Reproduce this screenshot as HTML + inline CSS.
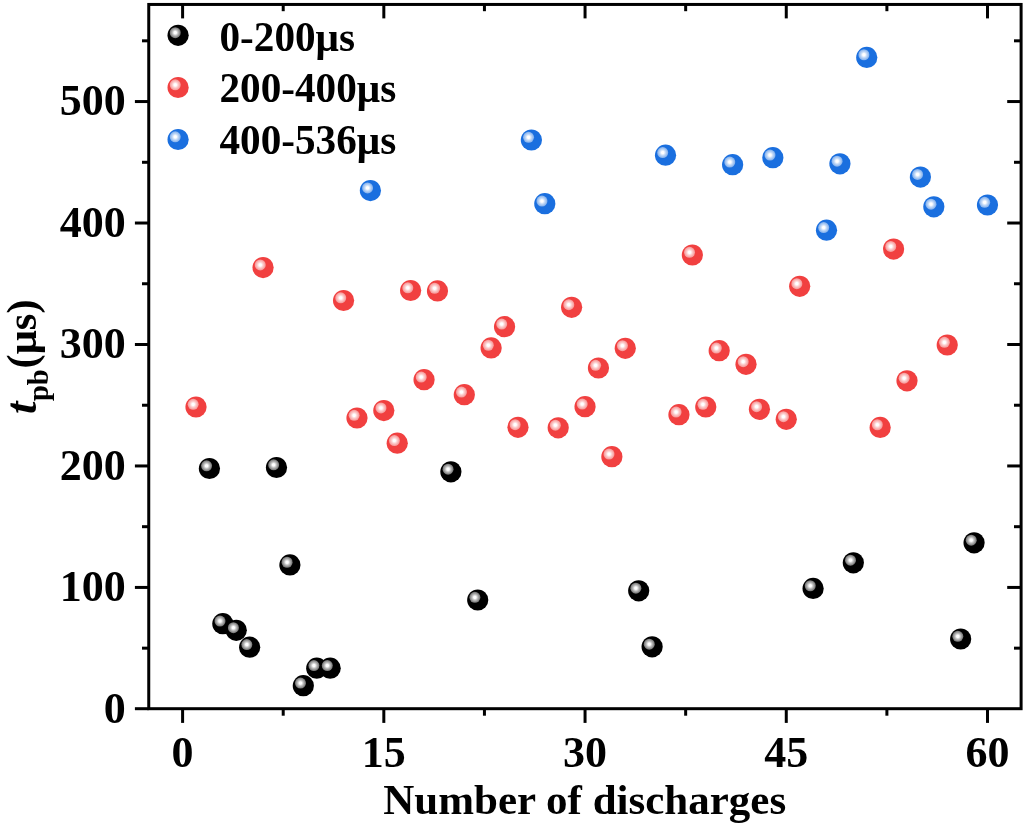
<!DOCTYPE html>
<html><head><meta charset="utf-8"><title>chart</title>
<style>html,body{margin:0;padding:0;background:#fff;}svg{display:block;will-change:transform;}text{font-family:"Liberation Serif",serif;font-weight:bold;fill:#000;}</style></head>
<body>
<svg width="1025" height="824" viewBox="0 0 1025 824">
<defs>
<radialGradient id="hl" cx="0.5" cy="0.5" r="0.5"><stop offset="0" stop-color="#fff" stop-opacity="1"/><stop offset="0.22" stop-color="#fff" stop-opacity="1"/><stop offset="0.5" stop-color="#fff" stop-opacity="0.76"/><stop offset="0.8" stop-color="#fff" stop-opacity="0.56"/><stop offset="1" stop-color="#fff" stop-opacity="0.45"/></radialGradient>
<g id="sk"><circle r="10.6" fill="#000000"/><circle cx="-2.85" cy="-2.65" r="5.5" fill="url(#hl)"/></g>
<g id="sr"><circle r="10.6" fill="#F14040"/><circle cx="-2.85" cy="-2.65" r="5.5" fill="url(#hl)"/></g>
<g id="sb"><circle r="10.6" fill="#1A6FDF"/><circle cx="-2.85" cy="-2.65" r="5.5" fill="url(#hl)"/></g>
</defs>
<rect width="1025" height="824" fill="#fff"/>
<g stroke="#000" stroke-width="3" fill="none">
<path d="M134.9 708.70H148.75"/>
<path d="M142.0 648.16H148.75"/>
<path d="M1021.10 648.16H1014.0"/>
<path d="M134.9 587.43H148.75"/>
<path d="M1021.10 587.43H1007.2"/>
<path d="M142.0 526.69H148.75"/>
<path d="M1021.10 526.69H1014.0"/>
<path d="M134.9 465.96H148.75"/>
<path d="M1021.10 465.96H1007.2"/>
<path d="M142.0 405.23H148.75"/>
<path d="M1021.10 405.23H1014.0"/>
<path d="M134.9 344.49H148.75"/>
<path d="M1021.10 344.49H1007.2"/>
<path d="M142.0 283.75H148.75"/>
<path d="M1021.10 283.75H1014.0"/>
<path d="M134.9 223.02H148.75"/>
<path d="M1021.10 223.02H1007.2"/>
<path d="M142.0 162.29H148.75"/>
<path d="M1021.10 162.29H1014.0"/>
<path d="M134.9 101.55H148.75"/>
<path d="M1021.10 101.55H1007.2"/>
<path d="M142.0 40.82H148.75"/>
<path d="M1021.10 40.82H1014.0"/>
<path d="M182.60 708.70V722.9"/>
<path d="M182.60 4.45V18.4"/>
<path d="M283.21 708.70V715.7"/>
<path d="M283.21 4.45V11.2"/>
<path d="M383.82 708.70V722.9"/>
<path d="M383.82 4.45V18.4"/>
<path d="M484.44 708.70V715.7"/>
<path d="M484.44 4.45V11.2"/>
<path d="M585.05 708.70V722.9"/>
<path d="M585.05 4.45V18.4"/>
<path d="M685.66 708.70V715.7"/>
<path d="M685.66 4.45V11.2"/>
<path d="M786.27 708.70V722.9"/>
<path d="M786.27 4.45V18.4"/>
<path d="M886.89 708.70V715.7"/>
<path d="M886.89 4.45V11.2"/>
<path d="M987.50 708.70V722.9"/>
<path d="M987.50 4.45V18.4"/>
<rect x="148.75" y="4.45" width="872.35" height="704.25"/>
</g>
<use href="#sr" x="196.01" y="407.00"/>
<use href="#sk" x="209.43" y="468.50"/>
<use href="#sk" x="222.84" y="623.70"/>
<use href="#sk" x="236.26" y="630.30"/>
<use href="#sk" x="249.67" y="647.20"/>
<use href="#sr" x="263.09" y="267.60"/>
<use href="#sk" x="276.50" y="467.50"/>
<use href="#sk" x="289.92" y="564.90"/>
<use href="#sk" x="303.33" y="685.70"/>
<use href="#sk" x="316.75" y="668.20"/>
<use href="#sk" x="330.16" y="668.20"/>
<use href="#sr" x="343.58" y="300.50"/>
<use href="#sr" x="357.00" y="418.00"/>
<use href="#sb" x="370.41" y="190.60"/>
<use href="#sr" x="383.82" y="410.60"/>
<use href="#sr" x="397.24" y="443.20"/>
<use href="#sr" x="410.65" y="290.50"/>
<use href="#sr" x="424.07" y="379.70"/>
<use href="#sr" x="437.49" y="290.90"/>
<use href="#sk" x="450.90" y="471.80"/>
<use href="#sr" x="464.31" y="394.70"/>
<use href="#sk" x="477.73" y="600.00"/>
<use href="#sr" x="491.14" y="347.90"/>
<use href="#sr" x="504.56" y="326.70"/>
<use href="#sr" x="517.98" y="427.30"/>
<use href="#sb" x="531.39" y="140.00"/>
<use href="#sb" x="544.80" y="203.70"/>
<use href="#sr" x="558.22" y="427.80"/>
<use href="#sr" x="571.63" y="307.30"/>
<use href="#sr" x="585.05" y="406.70"/>
<use href="#sr" x="598.46" y="368.00"/>
<use href="#sr" x="611.88" y="456.70"/>
<use href="#sr" x="625.29" y="348.30"/>
<use href="#sk" x="638.71" y="590.80"/>
<use href="#sk" x="652.12" y="646.80"/>
<use href="#sb" x="665.54" y="155.20"/>
<use href="#sr" x="678.95" y="414.70"/>
<use href="#sr" x="692.37" y="255.00"/>
<use href="#sr" x="705.78" y="407.00"/>
<use href="#sr" x="719.20" y="350.70"/>
<use href="#sb" x="732.62" y="164.70"/>
<use href="#sr" x="746.03" y="364.30"/>
<use href="#sr" x="759.44" y="409.30"/>
<use href="#sb" x="772.86" y="157.70"/>
<use href="#sr" x="786.27" y="419.30"/>
<use href="#sr" x="799.69" y="286.30"/>
<use href="#sk" x="813.11" y="588.40"/>
<use href="#sb" x="826.52" y="230.20"/>
<use href="#sb" x="839.93" y="163.80"/>
<use href="#sk" x="853.35" y="562.80"/>
<use href="#sb" x="866.76" y="57.40"/>
<use href="#sr" x="880.18" y="427.40"/>
<use href="#sr" x="893.60" y="249.10"/>
<use href="#sr" x="907.01" y="380.80"/>
<use href="#sb" x="920.42" y="177.10"/>
<use href="#sb" x="933.84" y="206.80"/>
<use href="#sr" x="947.25" y="345.00"/>
<use href="#sk" x="960.67" y="639.00"/>
<use href="#sk" x="974.08" y="542.80"/>
<use href="#sb" x="987.50" y="205.00"/>
<use href="#sk" x="178.1" y="35.3"/>
<text x="219.5" y="50.8" font-size="41.2">0-200μs</text>
<use href="#sr" x="178.1" y="87.5"/>
<text x="219.5" y="102.4" font-size="41.2">200-400μs</text>
<use href="#sb" x="178.1" y="139.5"/>
<text x="219.5" y="154.1" font-size="41.2">400-536μs</text>
<text x="125.8" y="722.60" font-size="44" text-anchor="end">0</text>
<text x="125.8" y="601.13" font-size="44" text-anchor="end">100</text>
<text x="125.8" y="479.66" font-size="44" text-anchor="end">200</text>
<text x="125.8" y="358.19" font-size="44" text-anchor="end">300</text>
<text x="125.8" y="236.72" font-size="44" text-anchor="end">400</text>
<text x="125.8" y="115.25" font-size="44" text-anchor="end">500</text>
<text x="182.60" y="766.5" font-size="44" text-anchor="middle">0</text>
<text x="383.82" y="766.5" font-size="44" text-anchor="middle">15</text>
<text x="585.05" y="766.5" font-size="44" text-anchor="middle">30</text>
<text x="786.27" y="766.5" font-size="44" text-anchor="middle">45</text>
<text x="987.50" y="766.5" font-size="44" text-anchor="middle">60</text>
<text x="584.7" y="813.6" font-size="43" text-anchor="middle">Number of discharges</text>
<g transform="rotate(-90)">
<text x="-413.9" y="36" font-size="45" font-style="italic">t</text>
<text x="-401.0" y="47.8" font-size="28.5">pb</text>
<text x="-368.5" y="36" font-size="42.6">(μs)</text>
</g>
</svg></body></html>
